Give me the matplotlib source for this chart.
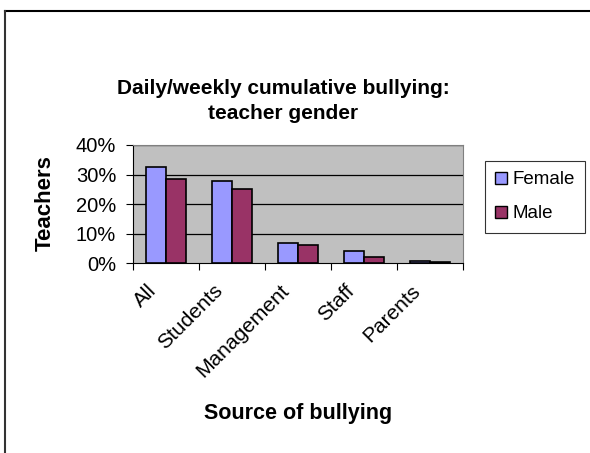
import numpy as np
import matplotlib
matplotlib.use("Agg")
import matplotlib.pyplot as plt
import matplotlib.patches as mpatches
from matplotlib.lines import Line2D
from matplotlib.transforms import ScaledTranslation

plt.rcParams["font.family"] = ["Liberation Sans", "DejaVu Sans"]

categories = ["All", "Students", "Management", "Staff", "Parents"]
female = [32.5, 27.9, 6.8, 4.2, 0.7]
male = [28.5, 25.2, 6.2, 2.1, 0.5]
yticks = [0, 10, 20, 30, 40]

FEMALE_C = "#9999FF"
MALE_C = "#993366"

fig = plt.figure(figsize=(5.9, 4.53), dpi=100)
ax = fig.add_axes([0.225, 0.419, 0.560, 0.261])
ax.set_facecolor("#C0C0C0")

x = np.arange(len(categories))
w = 0.30
ax.bar(x - w / 2, female, width=w, color=FEMALE_C, edgecolor="black", linewidth=1.2, zorder=3)
ax.bar(x + w / 2, male, width=w, color=MALE_C, edgecolor="black", linewidth=1.2, zorder=3)

ax.set_xlim(-0.5, len(categories) - 0.5)
ax.set_ylim(0, 40)
ax.set_yticks(yticks)
ax.set_yticklabels([f"{v}%" for v in yticks], fontsize=14.5)
for v in yticks[1:]:
    ax.axhline(v, color="black", linewidth=0.9, zorder=1)

# x ticks at category boundaries, labels centred under categories
ax.set_xticks(np.arange(-0.5, len(categories), 1.0))
ax.set_xticklabels([])
ax.set_xticks(x, minor=True)
ax.set_xticklabels(categories, minor=True, rotation=45, ha="right",
                   rotation_mode="anchor", fontsize=15)
ax.tick_params(axis="x", which="minor", length=0, pad=13)
ax.tick_params(axis="x", which="major", length=5, direction="out")
ax.tick_params(axis="y", length=5, direction="out", pad=7)
shift = ScaledTranslation(-0.19, 0, fig.dpi_scale_trans)
for lab in ax.get_xticklabels(minor=True):
    lab.set_transform(lab.get_transform() + shift)

for s in ["top", "right"]:
    ax.spines[s].set_color("#808080")
for s in ["left", "bottom"]:
    ax.spines[s].set_color("black")

fig.text(45 / 590, 1 - 203 / 453, "Teachers", rotation=90, ha="center", va="center",
         fontsize=16, fontweight="bold")
fig.text(298 / 590, 1 - 414 / 453, "Source of bullying", ha="center", va="center",
         fontsize=15.5, fontweight="bold")

fig.text(283 / 590, 1 - 101 / 453, "Daily/weekly cumulative bullying:\nteacher gender",
         ha="center", va="center", fontsize=15, fontweight="bold",
         linespacing=1.4)

handles = [mpatches.Patch(facecolor=FEMALE_C, edgecolor="black", label="Female"),
           mpatches.Patch(facecolor=MALE_C, edgecolor="black", label="Male")]
leg = fig.legend(handles=handles, loc="upper left",
                 bbox_to_anchor=(485 / 590, 1 - 161 / 453),
                 fontsize=13.5, frameon=True, fancybox=False,
                 handlelength=0.6, handleheight=0.6, handletextpad=0.3,
                 labelspacing=0.9, borderpad=0.55, borderaxespad=0)
leg.get_frame().set_edgecolor("black")
leg.get_frame().set_linewidth(0.8)

# outer chart-area border (only top and left visible in the crop)
fig.add_artist(Line2D([4.5 / 590, 1], [1 - 11 / 453, 1 - 11 / 453],
                      transform=fig.transFigure, color="black", linewidth=1.5))
fig.add_artist(Line2D([4.5 / 590, 4.5 / 590], [0, 1 - 11 / 453],
                      transform=fig.transFigure, color="#333333", linewidth=1.5))

fig.savefig("out.png", dpi=100)
